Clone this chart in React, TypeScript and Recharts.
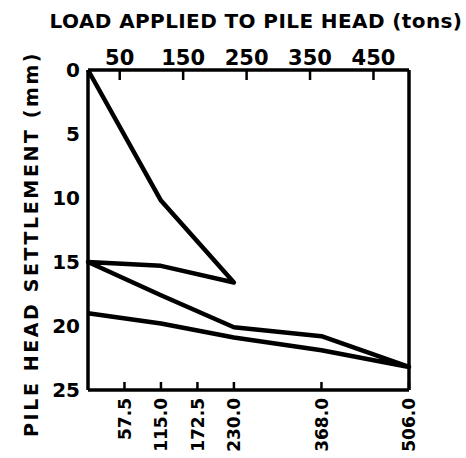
import { LineChart, Line, XAxis, YAxis, Label } from 'recharts';

// load-settlement record, in the order the cycles were run
const loads = [0, 115, 230, 115, 0, 115, 230, 368, 506, 368, 230, 115, 0];
const settlements = [0, 10.2, 16.6, 15.3, 15, 17.6, 20.1, 20.8, 23.2, 21.9, 20.9, 19.8, 19];

const topTicks = [50, 150, 250, 350, 450];
const bottomTicks = [57.5, 115, 172.5, 230, 368, 506];
const settlementTicks = [0, 5, 10, 15, 20, 25];
const rightTicks = [5, 10, 15, 20];

const data = loads.map((load, i) => ({ load, settlement: settlements[i] }));

const FONT = '"DejaVu Sans", sans-serif';
const topTickStyle = { fontSize: 21, fontWeight: 700, fill: '#000', fontFamily: FONT };
const leftTickStyle = { fontSize: 20, fontWeight: 700, fill: '#000', fontFamily: FONT };

function RotatedTick(props: any) {
  const { x, y, payload } = props;
  return (
    <text
      x={x}
      y={y}
      dy="0.36em"
      transform={`rotate(-90 ${x} ${y})`}
      textAnchor="end"
      fontSize={17}
      fontWeight={700}
      fontFamily={FONT}
      fill="#000"
    >
      {Number(payload.value).toFixed(1)}
    </text>
  );
}

export default function App() {
  return (
    <div style={{ position: 'absolute', left: 0, top: 0, background: '#fff' }}>
      <LineChart
        width={466}
        height={458}
        data={data}
        margin={{ top: 0, right: 0, left: 0, bottom: 0 }}
        style={{ fontFamily: FONT }}
      >
        <XAxis
          xAxisId="top"
          orientation="top"
          type="number"
          dataKey="load"
          domain={[0, 506]}
          ticks={topTicks}
          interval={0}
          height={70}
          axisLine={{ stroke: '#000', strokeWidth: 3.5 }}
          tickLine={{ stroke: '#000', strokeWidth: 2.5 }}
          tickSize={-10}
          tickMargin={15}
          tick={topTickStyle}
        >
          <Label
            content={() => (
              <text x={256} y={28} textAnchor="middle" fontSize={20} fontWeight={700} fontFamily={FONT} letterSpacing={0.4} fill="#000">
                LOAD APPLIED TO PILE HEAD (tons)
              </text>
            )}
          />
        </XAxis>
        <XAxis
          xAxisId="bottom"
          orientation="bottom"
          type="number"
          dataKey="load"
          domain={[0, 506]}
          ticks={bottomTicks}
          interval={0}
          height={68}
          axisLine={{ stroke: '#000', strokeWidth: 3.5 }}
          tickLine={{ stroke: '#000', strokeWidth: 2.5 }}
          tickSize={-8}
          tickMargin={16}
          tick={<RotatedTick />}
        />
        <YAxis
          yAxisId="left"
          orientation="left"
          type="number"
          domain={[0, 25]}
          reversed
          ticks={settlementTicks}
          interval={0}
          width={88}
          axisLine={{ stroke: '#000', strokeWidth: 3.5 }}
          tickLine={false}
          tickSize={0}
          tickMargin={8}
          tick={leftTickStyle}
        >
          <Label
            content={() => (
              <text
                x={38}
                y={437}
                transform="rotate(-90 38 437)"
                textAnchor="start"
                fontSize={19}
                fontWeight={700}
                fontFamily={FONT}
                letterSpacing={2.6}
                fill="#000"
              >
                PILE HEAD SETTLEMENT (mm)
              </text>
            )}
          />
        </YAxis>
        <YAxis
          yAxisId="right"
          orientation="right"
          type="number"
          domain={[0, 25]}
          reversed
          ticks={rightTicks}
          interval={0}
          width={57}
          axisLine={{ stroke: '#000', strokeWidth: 3.5 }}
          tickLine={{ stroke: '#000', strokeWidth: 2.5 }}
          tickSize={-12}
          tickFormatter={() => ''}
        />
        <Line
          xAxisId="bottom"
          yAxisId="left"
          type="linear"
          dataKey="settlement"
          stroke="#000"
          strokeWidth={4.5}
          strokeLinejoin="round"
          dot={false}
          activeDot={false}
          isAnimationActive={false}
        />
      </LineChart>
    </div>
  );
}
